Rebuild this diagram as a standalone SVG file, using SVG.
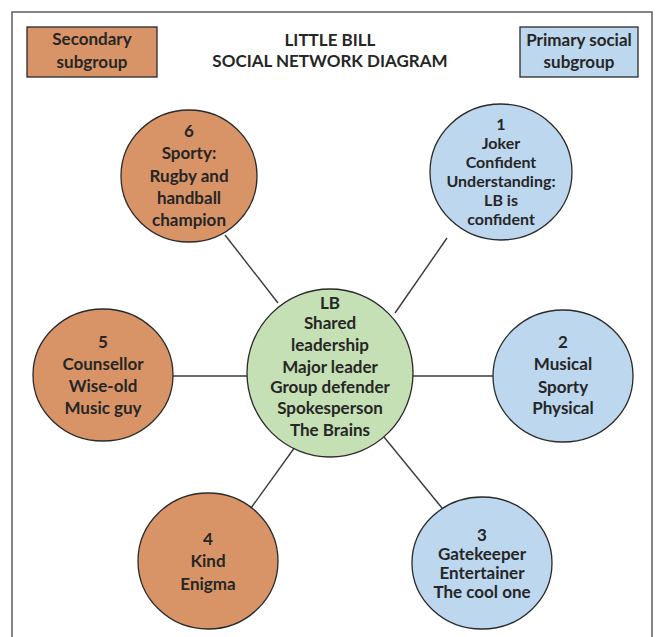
<svg xmlns="http://www.w3.org/2000/svg" width="657" height="637" viewBox="0 0 657 637">
<style>
.t{font-family:Lato,"Liberation Sans",sans-serif;font-weight:bold;font-size:17px;fill:#262626;text-anchor:middle}
.s{font-size:16px}
.sec{fill:#D89466;stroke:#2a2a2a;stroke-width:1.3}
.pri{fill:#BDD7EE;stroke:#2a2a2a;stroke-width:1.3}
.ctr{fill:#C5E0B4;stroke:#2a2a2a;stroke-width:1.3}
.ln{stroke:#3a3a3a;stroke-width:1.4;fill:none}
</style>
<rect x="0" y="0" width="657" height="637" fill="#fff"/>
<rect x="12" y="12" width="640" height="640" fill="none" stroke="#666" stroke-width="1.6"/>
<g id="legend-secondary">
<rect class="sec" x="27" y="27" width="130" height="50"/>
<text class="t" x="92" y="45">Secondary</text>
<text class="t" x="92" y="68">subgroup</text>
</g>
<g id="legend-primary">
<rect class="pri" x="520" y="27" width="118" height="50"/>
<text class="t" x="579" y="46">Primary social</text>
<text class="t" x="579" y="68">subgroup</text>
</g>
<g id="title">
<text class="t" x="330" y="46">LITTLE BILL</text>
<text class="t" x="330" y="67">SOCIAL NETWORK DIAGRAM</text>
</g>
<g id="connectors">
<line class="ln" x1="278" y1="303" x2="225" y2="235"/>
<line class="ln" x1="395" y1="313" x2="447" y2="238"/>
<line class="ln" x1="247" y1="376" x2="173" y2="376"/>
<line class="ln" x1="413" y1="376" x2="493" y2="376"/>
<line class="ln" x1="295" y1="447" x2="251" y2="508"/>
<line class="ln" x1="384" y1="437" x2="442" y2="508"/>
</g>
<g id="node-LB">
<ellipse class="ctr" cx="330" cy="373" rx="83" ry="84"/>
<text class="t" x="330" y="309">LB</text>
<text class="t" x="330" y="329">Shared</text>
<text class="t" x="330" y="351">leadership</text>
<text class="t" x="330" y="373">Major leader</text>
<text class="t" x="330" y="393">Group defender</text>
<text class="t" x="330" y="414">Spokesperson</text>
<text class="t" x="330" y="436">The Brains</text>
</g>
<g id="node-6">
<ellipse class="sec" cx="189" cy="176" rx="68" ry="66"/>
<text class="t" x="189" y="137">6</text>
<text class="t" x="189" y="159">Sporty:</text>
<text class="t" x="189" y="182">Rugby and</text>
<text class="t" x="189" y="204">handball</text>
<text class="t" x="189" y="226">champion</text>
</g>
<g id="node-1">
<ellipse class="pri" cx="501" cy="172" rx="71" ry="68"/>
<text class="t s" x="501" y="130">1</text>
<text class="t s" x="501" y="149">Joker</text>
<text class="t s" x="501" y="168">Confident</text>
<text class="t s" x="501" y="187">Understanding:</text>
<text class="t s" x="501" y="206">LB is</text>
<text class="t s" x="501" y="225">confident</text>
</g>
<g id="node-5">
<ellipse class="sec" cx="103" cy="375" rx="70" ry="66"/>
<text class="t" x="103" y="348">5</text>
<text class="t" x="103" y="370">Counsellor</text>
<text class="t" x="103" y="392">Wise-old</text>
<text class="t" x="103" y="414">Music guy</text>
</g>
<g id="node-2">
<ellipse class="pri" cx="563" cy="376" rx="70" ry="66"/>
<text class="t" x="563" y="348">2</text>
<text class="t" x="563" y="370">Musical</text>
<text class="t" x="563" y="393">Sporty</text>
<text class="t" x="563" y="414">Physical</text>
</g>
<g id="node-4">
<ellipse class="sec" cx="208" cy="561" rx="70" ry="68"/>
<text class="t" x="208" y="545">4</text>
<text class="t" x="208" y="567">Kind</text>
<text class="t" x="208" y="590">Enigma</text>
</g>
<g id="node-3">
<ellipse class="pri" cx="482" cy="563" rx="70" ry="66"/>
<text class="t" x="482" y="541">3</text>
<text class="t" x="482" y="560">Gatekeeper</text>
<text class="t" x="482" y="579">Entertainer</text>
<text class="t" x="482" y="598">The cool one</text>
</g>
</svg>
